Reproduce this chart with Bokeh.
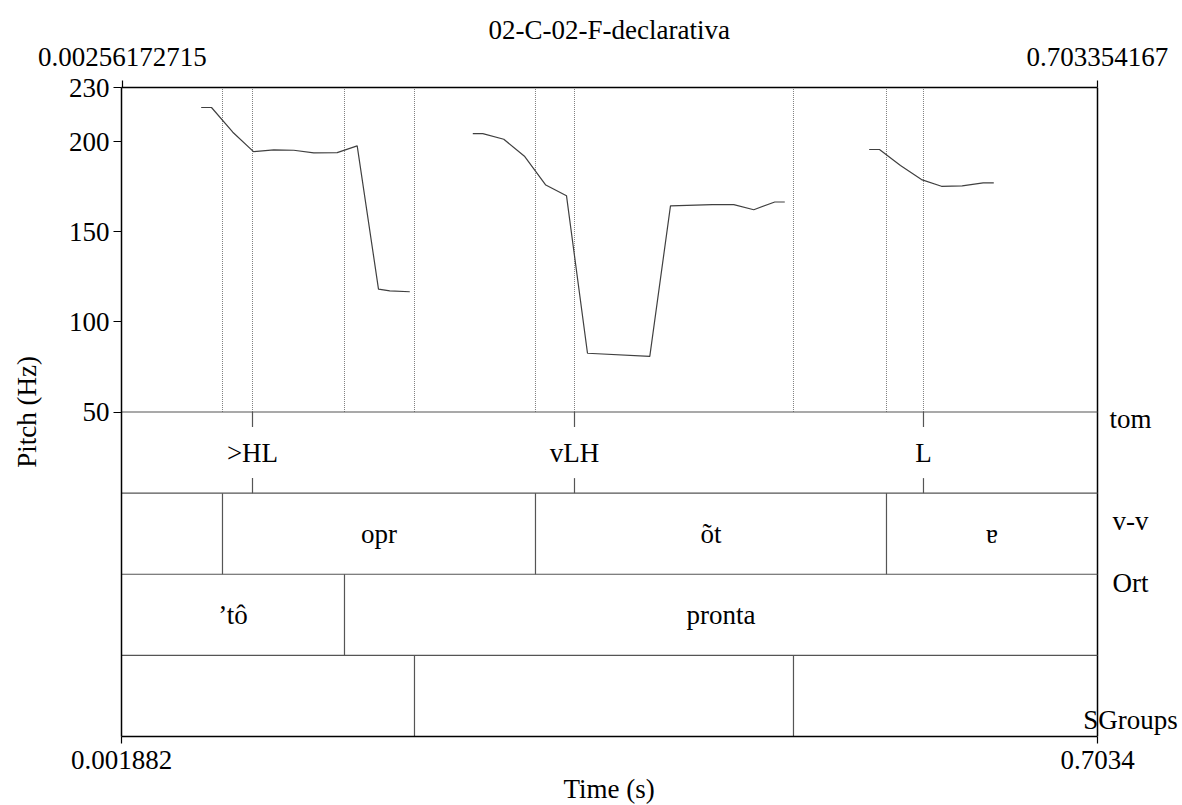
from bokeh.plotting import figure
from bokeh.models import Range1d, LinearAxis, FixedTicker, Title
from bokeh.core.properties import value
from bokeh.embed import file_html
from bokeh.resources import INLINE

# ---------------- data ----------------
chart_title = "02-C-02-F-declarativa"
x_title = "Time (s)"
y_title = "Pitch (Hz)"
t_min, t_max = 0.001882, 0.7034
top_t_min, top_t_max = 0.00256172715, 0.703354167
f_min, f_max = 50, 230
y_ticks = [50, 100, 150, 200, 230]

pitch_t_1 = [0.05916, 0.06657, 0.08188, 0.09676, 0.11135, 0.12572, 0.14010,
             0.15691, 0.17129, 0.18660, 0.19472, 0.20910]
pitch_hz_1 = [218.9, 218.9, 205.2, 194.4, 195.4, 195.2, 193.7,
              193.9, 197.6, 118.2, 117.2, 116.7]
pitch_t_2 = [0.25438, 0.26157, 0.27666, 0.29175, 0.30685, 0.32172, 0.33682,
             0.38160, 0.39647, 0.42645, 0.44197, 0.45635, 0.47144, 0.47863]
pitch_hz_2 = [204.4, 204.4, 201.3, 191.7, 175.9, 170.0, 82.6,
              80.9, 164.3, 165.0, 165.0, 162.2, 166.5, 166.5]
pitch_t_3 = [0.53929, 0.54669, 0.56179, 0.57688, 0.59126, 0.60613, 0.62123, 0.62885]
pitch_hz_3 = [195.6, 195.6, 186.7, 178.9, 175.2, 175.4, 177.1, 177.1]

tier_names = ["tom", "v-v", "Ort", "SGroups"]
tom_times = [0.09604, 0.32748, 0.57832]
tom_labels = [">HL", "vLH", "L"]
vv_bounds = [0.07447, 0.29944, 0.55173]
vv_labels = ["", "opr", "õt", "ɐ"]
ort_bounds = [0.16216]
ort_labels = ["’tô", "pronta"]
sg_bounds = [0.21247, 0.48488]
sg_labels = ["", "", ""]

# ---------------- geometry / style ----------------
FONT = "Liberation Serif"
FS = "27px"
W, H = 1182, 805
LEFT, RIGHT_PAD, TOP, BOTTOM = 121, 85, 87, 69
frame_w = W - LEFT - RIGHT_PAD            # drawing box width in px
frame_h = H - TOP - BOTTOM
tier_h = (f_max - f_min) / 4.0
n_tiers = len(tier_names)
y_bottom = f_min - n_tiers * tier_h
px_per_s = frame_w / (t_max - t_min)
px_per_u = frame_h / (f_max - y_bottom)
x_end = t_max + RIGHT_PAD / px_per_s       # room for the tier names
tick_len = tier_h * 0.185
name_dx_px = 33
name_dy_px = [33.5, 13, 31.5, -24.5]

p = figure(width=W, height=H,
           x_range=Range1d(t_min, x_end), y_range=Range1d(y_bottom, f_max),
           output_backend="svg", toolbar_location=None,
           min_border_left=LEFT, min_border_right=0,
           min_border_top=TOP, min_border_bottom=BOTTOM)
p.background_fill_color = "white"
p.border_fill_color = "white"
p.xgrid.visible = False
p.ygrid.visible = False
p.outline_line_color = None

# title (centred over the drawing box)
p.title.text = chart_title
p.title.align = "left"
p.title.offset = frame_w / 2 - 121
p.title.text_font = FONT
p.title.text_font_size = FS
p.title.text_font_style = "normal"
p.title.text_color = "black"
p.title.standoff = 0

def style_axis(ax, tick_out, standoff):
    ax.major_label_text_font = FONT
    ax.major_label_text_font_size = FS
    ax.major_label_standoff = standoff
    ax.major_tick_out = tick_out
    ax.major_tick_in = 0
    ax.minor_tick_out = 0
    ax.minor_tick_in = 0
    ax.axis_line_color = "black"
    ax.axis_line_width = 1.5
    ax.major_tick_line_color = "black"
    ax.major_tick_line_width = 1.2
    ax.major_label_text_color = "black"
    ax.axis_label_text_color = "black"
    ax.axis_label_text_font = FONT
    ax.axis_label_text_font_size = FS
    ax.axis_label_text_font_style = "normal"

# left axis
ya = p.yaxis[0]
ya.ticker = FixedTicker(ticks=y_ticks)
ya.axis_label = y_title
style_axis(ya, 8, 4)
ya.axis_label_standoff = 24

# bottom axis
xa = p.xaxis[0]
xa.ticker = FixedTicker(ticks=[t_min, t_max])
xa.bounds = (t_min, t_max)
xa.major_label_overrides = {t_min: str(t_min), t_max: str(t_max)}
style_axis(xa, 7, 7)

# x-axis title, centred under the drawing box
p.add_layout(Title(text=x_title, align="left", offset=frame_w / 2 - 46,
                   text_font=FONT, text_font_size=FS, text_font_style="normal",
                   text_color="black", standoff=0), "below")

# top axis
ta = LinearAxis(ticker=FixedTicker(ticks=[top_t_min, top_t_max]),
                bounds=(t_min, t_max),
                major_label_overrides={top_t_min: str(top_t_min), top_t_max: str(top_t_max)})
style_axis(ta, 7, 15)
p.add_layout(ta, "above")

# right border of the drawing box
p.segment(x0=[t_max], x1=[t_max], y0=[y_bottom], y1=[f_max],
          line_color="black", line_width=1.5)

# dotted boundary lines in pitch area
all_bounds = sorted(vv_bounds + ort_bounds + sg_bounds + tom_times)
p.segment(x0=all_bounds, x1=all_bounds, y0=[f_min] * len(all_bounds),
          y1=[f_max] * len(all_bounds), line_color="#808080", line_width=1,
          line_dash="1 1")

# pitch contour
for tt, hz in [(pitch_t_1, pitch_hz_1), (pitch_t_2, pitch_hz_2), (pitch_t_3, pitch_hz_3)]:
    p.line(tt, hz, line_color="#404040", line_width=1.2)

# tier separators
seps = [f_min - k * tier_h for k in range(n_tiers)]
p.segment(x0=[t_min] * len(seps), x1=[t_max] * len(seps), y0=seps, y1=seps,
          line_color="#555555", line_width=1.2)

def tier_top(k):
    return f_min - k * tier_h

def tier_mid(k):
    return f_min - (k + 0.5) * tier_h

text_kw = dict(text_align="center", text_baseline="middle",
               text_font=value(FONT), text_font_size=FS, text_color="black")

# tom point tier (k = 0)
top0, bot0 = tier_top(0), tier_top(0) - tier_h
p.segment(x0=tom_times, x1=tom_times, y0=[top0] * 3, y1=[top0 - tick_len] * 3,
          line_color="#555555", line_width=1.2)
p.segment(x0=tom_times, x1=tom_times, y0=[bot0] * 3, y1=[bot0 + tick_len] * 3,
          line_color="#555555", line_width=1.2)
p.text(x=tom_times, y=[tier_mid(0)] * len(tom_times), text=tom_labels, **text_kw)

# interval tiers
for k, (bounds, labels) in enumerate([(vv_bounds, vv_labels),
                                      (ort_bounds, ort_labels),
                                      (sg_bounds, sg_labels)], start=1):
    top, bot = tier_top(k), tier_top(k) - tier_h
    p.segment(x0=bounds, x1=bounds, y0=[top] * len(bounds), y1=[bot] * len(bounds),
              line_color="#555555", line_width=1.2)
    edges = [t_min] + bounds + [t_max]
    mids = [(edges[i] + edges[i + 1]) / 2 for i in range(len(edges) - 1)]
    p.text(x=mids, y=[tier_mid(k)] * len(mids), text=labels, **text_kw)

# tier names on the right
name_x = [t_max + name_dx_px / px_per_s] * n_tiers
name_y = [tier_mid(k) + name_dy_px[k] / px_per_u for k in range(n_tiers)]
p.text(x=name_x, y=name_y, text=tier_names, **text_kw)

open("out.html", "w").write(file_html(p, INLINE))
